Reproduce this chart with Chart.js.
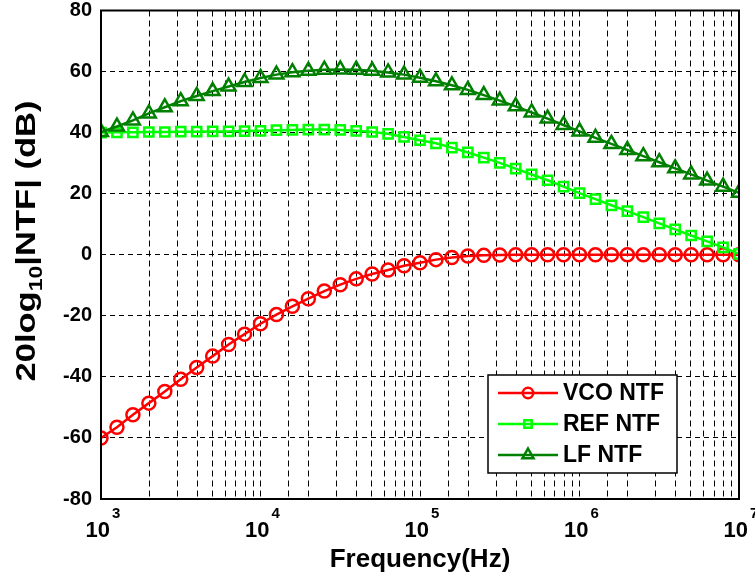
<!DOCTYPE html>
<html>
<head>
<meta charset="utf-8">
<script src="https://cdn.jsdelivr.net/npm/chart.js@4.4.1/dist/chart.umd.min.js"></script>
<style>
  html, body { margin: 0; padding: 0; background: #fff; }
</style>
</head>
<body>
<canvas id="c" width="755" height="578"></canvas>
<script>
// frequency points (Hz), 10 per decade
const freq = [
  1000, 1259, 1585, 1995, 2512, 3162, 3981, 5012, 6310, 7943,
  10000, 12589, 15849, 19953, 25119, 31623, 39811, 50119, 63096, 79433,
  100000, 125893, 158489, 199526, 251189, 316228, 398107, 501187, 630957, 794328,
  1000000, 1258925, 1584893, 1995262, 2511886, 3162278, 3981072, 5011872, 6309573, 7943282,
  10000000
];

// |NTF| in dB
const vcoNtf = [
  -60, -56.5, -52.4, -48.6, -44.8, -40.8, -36.9, -33.2, -29.4, -26,
  -22.6, -19.6, -16.9, -14.4, -11.9, -9.8, -7.9, -6.3, -5.0, -3.6,
  -2.6, -1.6, -0.9, -0.4, -0.2, -0.1, 0, 0, 0, 0,
  0, 0, 0, 0, 0, 0, 0, 0, 0, 0,
  0
];
const refNtf = [
  40.0, 40.1, 40.1, 40.2, 40.2, 40.3, 40.3, 40.4, 40.4, 40.5,
  40.6, 40.8, 40.9, 41.0, 41.0, 40.9, 40.6, 40.2, 39.6, 38.6,
  37.5, 36.5, 35.1, 33.5, 31.8, 30.1, 28.2, 26.3, 24.4, 22.3,
  20.2, 18.2, 16.2, 14.3, 12.3, 10.3, 8.3, 6.3, 4.4, 2.4,
  0.3
];
const lfNtf = [
  40.2, 42.0, 44.0, 46.3, 48.3, 50.3, 52.0, 53.6, 55.1, 56.6,
  57.9, 59.0, 59.8, 60.3, 60.6, 60.7, 60.6, 60.3, 59.7, 59.0,
  58.0, 56.8, 55.5, 54.0, 52.3, 50.5, 48.6, 46.6, 44.6, 42.5,
  40.4, 38.3, 36.3, 34.3, 32.3, 30.3, 28.3, 26.3, 24.3, 22.3,
  20.3
];

const seriesNames = ['VCO NTF', 'REF NTF', 'LF NTF'];
const xTickExps = [3, 4, 5, 6, 7];
const xTitle = 'Frequency(Hz)';

const FONT = '"Liberation Sans", Arial, sans-serif';

const series = [
  { name: seriesNames[0], values: vcoNtf, color: '#ff0000', style: 'circle', radius: 6.5, order: 3 },
  { name: seriesNames[1], values: refNtf, color: '#00ff00', style: 'rect', radius: 6.5, order: 2 },
  { name: seriesNames[2], values: lfNtf, color: '#008000', style: 'triangle', radius: 8, order: 1 }
];

// box, log tick labels, axis titles and legend
const decorations = {
  id: 'decorations',
  afterDraw(chart) {
    const { ctx, chartArea: a, scales: { x } } = chart;
    ctx.save();
    ctx.strokeStyle = '#000';
    ctx.lineWidth = 2;
    ctx.strokeRect(a.left, a.top, a.right - a.left, a.bottom - a.top);

    ctx.fillStyle = '#000';
    ctx.textBaseline = 'alphabetic';
    xTickExps.forEach(e => {
      const px = x.getPixelForValue(Math.pow(10, e));
      ctx.font = 'bold 22px ' + FONT;
      ctx.textAlign = 'right';
      ctx.fillText('10', px + 9, 537);
      ctx.font = 'bold 15px ' + FONT;
      ctx.textAlign = 'left';
      ctx.fillText(String(e), px + 11, 518);
    });

    ctx.font = 'bold 26px ' + FONT;
    ctx.textAlign = 'center';
    ctx.fillText(xTitle, (a.left + a.right) / 2, 567);

    // y title with subscript
    ctx.save();
    ctx.translate(35, 241);
    ctx.rotate(-Math.PI / 2);
    ctx.scale(1.28, 1);
    const parts = [
      { t: '20log', f: 'bold 27px ' + FONT, dy: 0 },
      { t: '10', f: 'bold 18px ' + FONT, dy: 7 },
      { t: '|NTF| (dB)', f: 'bold 27px ' + FONT, dy: 0 }
    ];
    let total = 0;
    parts.forEach(p => { ctx.font = p.f; p.w = ctx.measureText(p.t).width; total += p.w; });
    let cx = -total / 2;
    ctx.textAlign = 'left';
    parts.forEach(p => { ctx.font = p.f; ctx.fillText(p.t, cx, p.dy); cx += p.w; });
    ctx.restore();

    // legend
    const lx = 488, ly = 375, lw = 189, lh = 98;
    ctx.fillStyle = '#fff';
    ctx.fillRect(lx, ly, lw, lh);
    ctx.strokeStyle = '#000';
    ctx.lineWidth = 1.5;
    ctx.strokeRect(lx, ly, lw, lh);
    const rows = [393, 424, 455];
    series.forEach((s, i) => {
      const yy = rows[i];
      ctx.strokeStyle = s.color;
      ctx.lineWidth = 2.5;
      ctx.beginPath();
      ctx.moveTo(498, yy);
      ctx.lineTo(558, yy);
      ctx.stroke();
      ctx.fillStyle = 'rgba(0,0,0,0)';
      Chart.helpers.drawPoint(ctx, {
        pointStyle: s.style, radius: s.radius * 0.8, borderWidth: 2.5, rotation: 0
      }, 528, yy);
      ctx.fillStyle = '#000';
      ctx.font = 'bold 23px ' + FONT;
      ctx.textAlign = 'left';
      ctx.textBaseline = 'middle';
      ctx.fillText(s.name, 563, yy + 1);
    });
    ctx.restore();
  }
};

new Chart(document.getElementById('c'), {
  type: 'line',
  data: {
    datasets: series.map(s => ({
      label: s.name,
      data: freq.map((f, i) => ({ x: f, y: s.values[i] })),
      borderColor: s.color,
      borderWidth: 2.5,
      pointStyle: s.style,
      pointRadius: s.radius,
      pointBorderWidth: 2.5,
      pointBorderColor: s.color,
      pointBackgroundColor: 'rgba(0,0,0,0)',
      tension: 0,
      fill: false,
      order: s.order
    }))
  },
  options: {
    responsive: false,
    animation: false,
    devicePixelRatio: 1,
    layout: { padding: { top: 8, right: 16, left: 0, bottom: 0 } },
    plugins: { legend: { display: false }, tooltip: { enabled: false } },
    scales: {
      x: {
        type: 'logarithmic',
        min: 1000,
        max: 10000000,
        ticks: { display: false },
        grid: { color: '#000', lineWidth: 1, drawTicks: false },
        border: { display: false, dash: [6, 4] },
        afterFit: s => { s.height = 79; s.paddingLeft = 0; s.paddingRight = 0; }
      },
      y: {
        min: -80,
        max: 80,
        ticks: {
          stepSize: 20,
          color: '#000',
          padding: 9,
          font: { family: FONT, size: 20, weight: 'bold' }
        },
        grid: { color: '#000', lineWidth: 1, drawTicks: false },
        border: { display: false, dash: [5, 4] },
        afterFit: s => { s.width = 101; s.paddingTop = 0; s.paddingBottom = 0; }
      }
    }
  },
  plugins: [decorations]
});
</script>
</body>
</html>
